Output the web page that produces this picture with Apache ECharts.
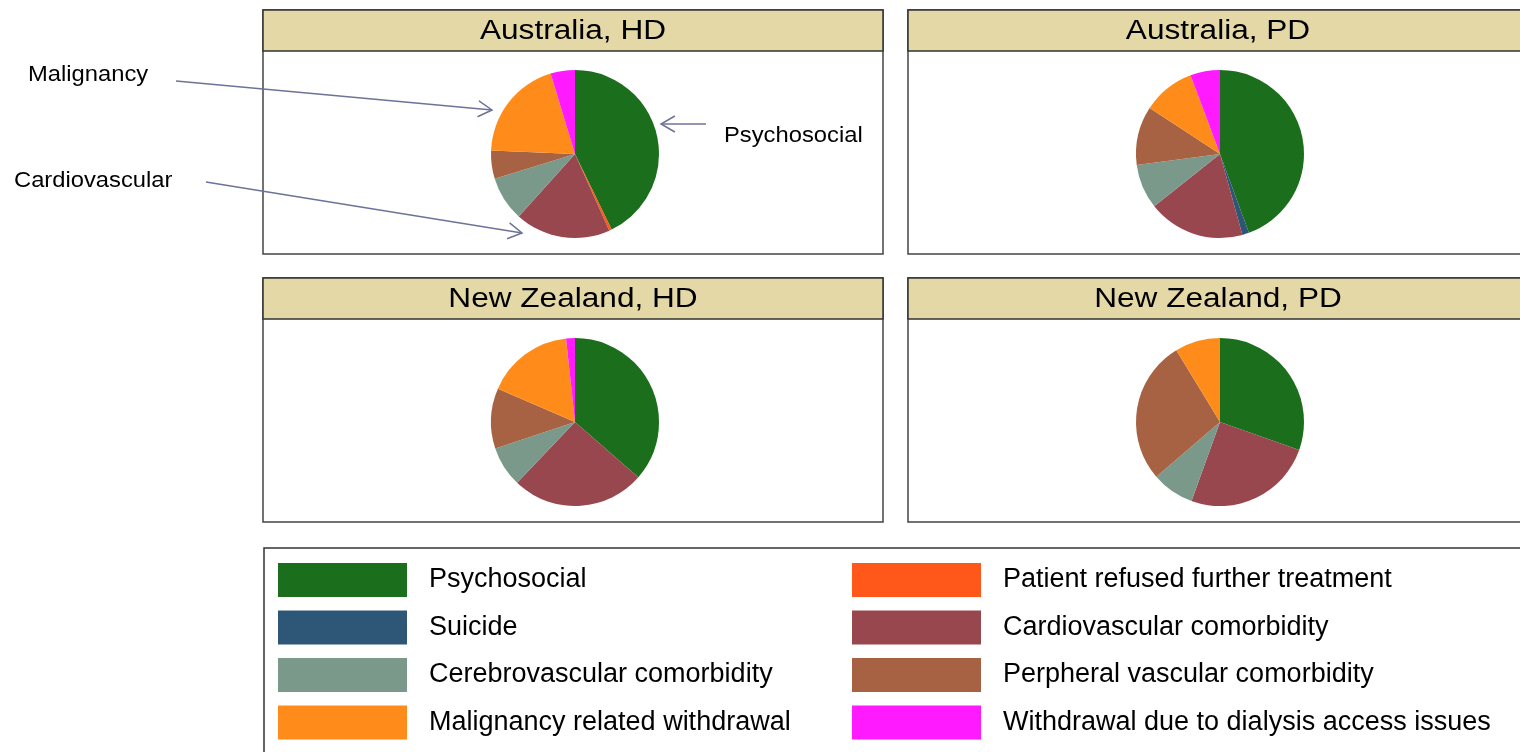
<!DOCTYPE html>
<html>
<head>
<meta charset="utf-8">
<script src="https://cdn.jsdelivr.net/npm/echarts@6/dist/echarts.min.js"></script>
<style>
  html, body { margin: 0; padding: 0; background: #fff; }
  #main { width: 1520px; height: 752px; }
</style>
</head>
<body>
<div id="main"></div>
<script>
// causes of withdrawal, in slice order (clockwise from 12 o'clock)
var causes = ['Psychosocial', 'Patient refused further treatment', 'Suicide',
    'Cardiovascular comorbidity', 'Cerebrovascular comorbidity',
    'Perpheral vascular comorbidity', 'Malignancy related withdrawal',
    'Withdrawal due to dialysis access issues'];
var causeColors = ['#1b6e1b', '#ff581a', '#2e5677', '#98474e', '#7b998a', '#a66242', '#ff8c1a', '#ff1aff'];

// percentages
var ausHD = [42.9, 0.5, 0, 18.4, 8.6, 5.4, 19.7, 4.7];
var ausPD = [44.4, 0, 1.3, 18.6, 8.6, 11.3, 10.1, 5.7];
var nzHD = [36.4, 0, 0, 25.7, 7.8, 11.6, 16.8, 1.7];
var nzPD = [30.4, 0, 0, 25.1, 8.2, 27.6, 8.7, 0];

var panelTitles = ['Australia, HD', 'Australia, PD', 'New Zealand, HD', 'New Zealand, PD'];
var legendLeft = [causes[0], causes[2], causes[4], causes[6]];
var legendRight = [causes[1], causes[3], causes[5], causes[7]];

var chart = echarts.init(document.getElementById('main'));

// panel boxes: [x, y]
var panels = [[263, 10], [908, 10], [263, 278], [908, 278]];
var panelW = 620, panelH = 244, stripH = 41;
var pieData = [ausHD, ausPD, nzHD, nzPD];

var graphics = [];
panels.forEach(function(p, i) {
    graphics.push({
        type: 'rect', shape: { x: p[0], y: p[1], width: panelW, height: panelH },
        style: { fill: '#fff', stroke: '#444', lineWidth: 1.5 }, z: 0
    });
    graphics.push({
        type: 'rect', shape: { x: p[0], y: p[1], width: panelW, height: stripH },
        style: { fill: '#e3d8a6', stroke: '#333', lineWidth: 1.5 }, z: 1
    });
    // the original is stretched sideways a little
    graphics.push({
        type: 'text', x: p[0] + panelW / 2, y: p[1] + stripH / 2 + 1, scaleX: 1.17,
        style: { text: panelTitles[i], fill: '#000', font: '27px "Liberation Sans", Arial', align: 'center', verticalAlign: 'middle' },
        z: 2
    });
});

// legend frame
graphics.push({
    type: 'rect', shape: { x: 264, y: 548, width: 1300, height: 260 },
    style: { fill: 'none', stroke: '#333', lineWidth: 1.5 }, z: 0
});

// annotation arrows
var arrowColor = '#6c7399';
function arrow(x1, y1, x2, y2) {
    var a = Math.atan2(y2 - y1, x2 - x1), L = 16, t = Math.PI / 6;
    graphics.push({
        type: 'line', shape: { x1: x1, y1: y1, x2: x2, y2: y2 },
        style: { stroke: arrowColor, lineWidth: 1.5 }, z: 5
    });
    graphics.push({
        type: 'polyline', shape: { points: [
            [x2 - L * Math.cos(a + t), y2 - L * Math.sin(a + t)], [x2, y2],
            [x2 - L * Math.cos(a - t), y2 - L * Math.sin(a - t)]] },
        style: { stroke: arrowColor, lineWidth: 1.5, fill: 'none' }, z: 5
    });
}
arrow(176, 81, 492, 110);
arrow(206, 182, 522, 233);
arrow(706, 124, 661, 124);

function note(txt, x, y) {
    graphics.push({
        type: 'text', x: x, y: y, scaleX: 1.08,
        style: { text: txt, fill: '#000', font: '22px "Liberation Sans", Arial', verticalAlign: 'middle' }, z: 5
    });
}
note('Malignancy', 28, 75);
note('Cardiovascular', 14, 181);
note('Psychosocial', 724, 136);

var pieCenters = [[575, 154], [1220, 154], [575, 422], [1220, 422]];
var series = pieData.map(function(vals, i) {
    return {
        type: 'pie',
        name: panelTitles[i],
        center: pieCenters[i],
        radius: 84,
        startAngle: 90,
        clockwise: true,
        silent: true,
        label: { show: false },
        labelLine: { show: false },
        itemStyle: { borderWidth: 0 },
        data: causes.map(function(c, k) {
            return { name: c, value: vals[k], itemStyle: { color: causeColors[k] } };
        })
    };
});

function legendCol(names, left) {
    return {
        orient: 'vertical',
        left: left,
        top: 563,
        data: names,
        icon: 'rect',
        itemWidth: 129,
        itemHeight: 34,
        itemGap: 13.5,
        selectedMode: false,
        padding: 0,
        textStyle: { fontSize: 27, color: '#000', fontFamily: '"Liberation Sans", Arial', padding: [0, 0, 0, 17] }
    };
}

chart.setOption({
    animation: false,
    legend: [legendCol(legendLeft, 278), legendCol(legendRight, 852)],
    graphic: { elements: graphics },
    series: series
});
</script>
</body>
</html>
